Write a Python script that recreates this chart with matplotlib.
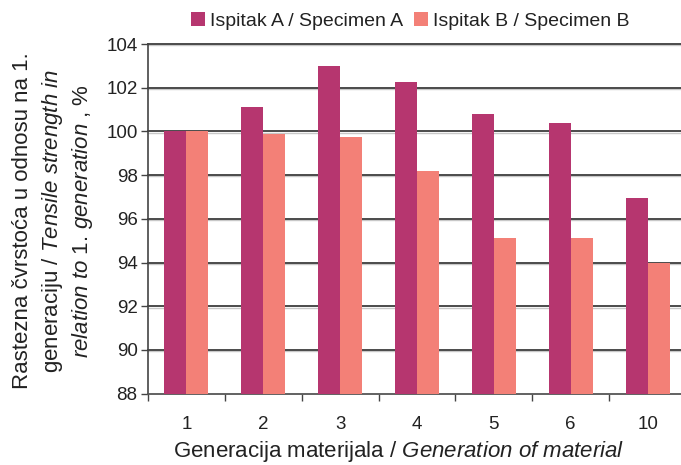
import matplotlib
matplotlib.use("Agg")
import matplotlib.pyplot as plt
import matplotlib.transforms as mtransforms
from matplotlib.patches import Patch
import numpy as np

plt.rcParams['font.family'] = ['Liberation Sans', 'DejaVu Sans']
plt.rcParams['mathtext.fontset'] = 'custom'
plt.rcParams['mathtext.rm'] = 'Liberation Sans'
plt.rcParams['mathtext.it'] = 'Liberation Sans:italic'

# Data
generations = ['1', '2', '3', '4', '5', '6', '10']
specimen_a = [100.0, 101.1, 103.0, 102.25, 100.78, 100.37, 96.93]
specimen_b = [100.0, 99.86, 99.73, 98.2, 95.1, 95.1, 94.0]
series_labels = ['Ispitak A / Specimen A', 'Ispitak B / Specimen B']
y_ticks = [88, 90, 92, 94, 96, 98, 100, 102, 104]

color_a = '#B6366F'
color_b = '#F38077'
text_color = '#222222'

W, H = 681, 465
fig = plt.figure(figsize=(W / 100, H / 100), dpi=100)
left, right, top, bottom = 148, 686, 44, 393.6
ax = fig.add_axes([left / W, 1 - bottom / H, (right - left) / W, (bottom - top) / H])

x = np.arange(len(generations))
bw = 0.286
ax.bar(x - bw / 2, [v - 88 for v in specimen_a], bw, bottom=88, color=color_a, zorder=3, linewidth=0)
ax.bar(x + bw / 2, [v - 88 for v in specimen_b], bw, bottom=88, color=color_b, zorder=3, linewidth=0)

ax.set_xlim(-0.5, len(generations) - 0.5)
ax.set_ylim(88, 104)

# Horizontal gridlines: dark line with a faint light shadow just below
ytrans = ax.get_yaxis_transform()
shadow = ytrans + mtransforms.ScaledTranslation(0, -1.3 / 100, fig.dpi_scale_trans)
for yv in y_ticks[1:]:
    ax.plot([0, 1], [yv, yv], color='#c8c8c8', lw=1.0, zorder=1, transform=shadow,
            clip_on=False)
    ax.plot([0, 1], [yv, yv], color='#3d3d3d', lw=1.3, zorder=2, transform=ytrans,
            clip_on=False)

for s in ['top', 'right']:
    ax.spines[s].set_visible(False)
ax.spines['left'].set_color('#444444')
ax.spines['left'].set_linewidth(1.2)
ax.spines['bottom'].set_color('#555555')
ax.spines['bottom'].set_linewidth(1.3)

ax.set_yticks(y_ticks)
ax.set_yticklabels([str(v) for v in y_ticks], fontsize=13.5, color=text_color)
ax.tick_params(axis='y', direction='out', length=5, width=1, color='#444444', pad=2.5)

ax.set_xticks(x)
ax.set_xticklabels(generations, fontsize=13.5, color=text_color)
ax.set_xticks(np.arange(-0.5, len(generations)), minor=True)
ax.tick_params(axis='x', which='major', length=0, pad=16)
ax.tick_params(axis='x', which='minor', direction='out', length=5, width=1, color='#444444')

# Axis titles (mixed upright / italic)
fig.text(398.5 / W, 1 - 457 / H,
         r'Generacija materijala / $\mathit{Generation\ of\ material}$',
         ha='center', va='baseline', fontsize=16, color=text_color)

ylab_lines = [
    'Rastezna čvrstoća u odnosu na 1.',
    r'generaciju / $\mathit{Tensile\ strength\ in}$',
    r'$\mathit{relation\ to\ 1.\!\ generation}$ , %',
]
for xp, txt in zip([28, 58, 88], ylab_lines):
    fig.text(xp / W, 1 - 221 / H, txt, rotation=90, rotation_mode='anchor',
             ha='center', va='baseline', fontsize=16, color=text_color)

handles = [Patch(facecolor=color_a, edgecolor='none'), Patch(facecolor=color_b, edgecolor='none')]
fig.legend(handles, series_labels, loc='center', bbox_to_anchor=(410.5 / W, 1 - 21 / H),
           ncol=2, frameon=False, fontsize=14, handlelength=0.72, handleheight=0.72,
           handletextpad=0.26, columnspacing=0.57, borderpad=0,
           labelcolor=text_color)

fig.savefig('out.png', dpi=100)
